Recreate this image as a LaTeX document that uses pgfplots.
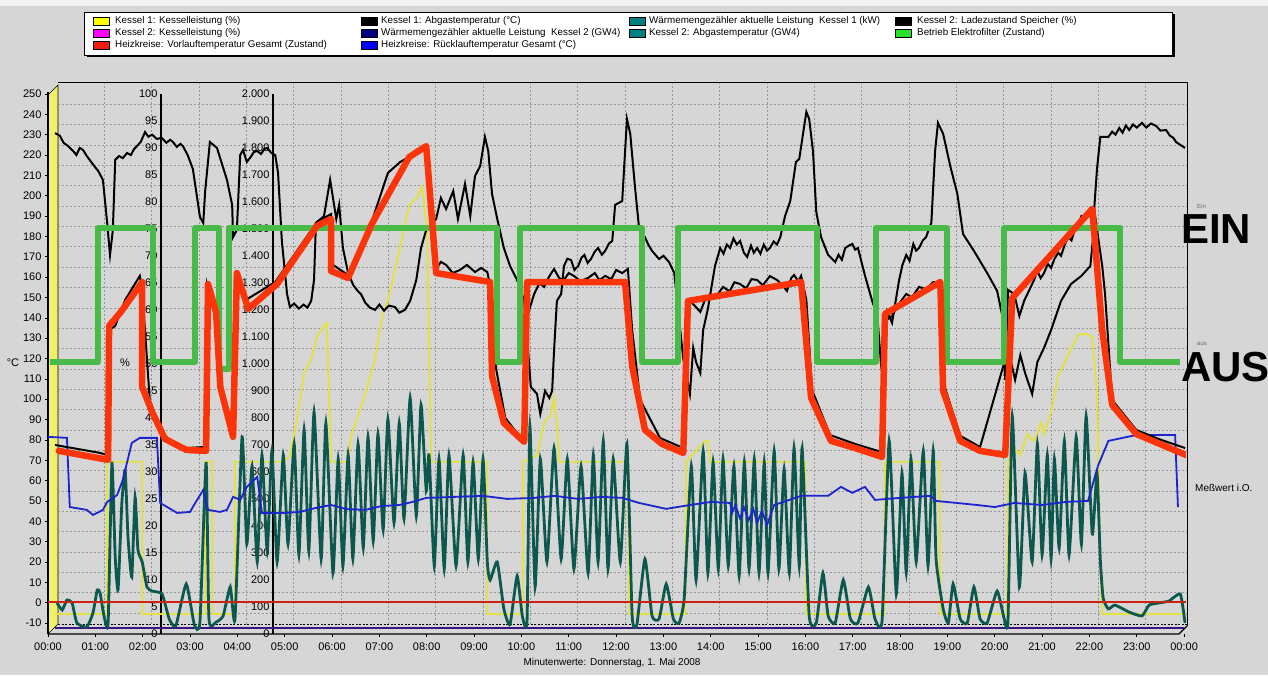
\documentclass[border=0pt]{standalone}
\usepackage{fontspec}
\setmainfont{Liberation Sans}
\usepackage{pgfplots}
\pgfplotsset{compat=1.18}
\definecolor{bg}{RGB}{214,214,214}
\definecolor{gridc}{RGB}{150,150,150}
\definecolor{redthick}{RGB}{252,52,10}
\definecolor{greenthick}{RGB}{72,186,72}
\definecolor{tealc}{RGB}{12,88,78}
\definecolor{yell}{RGB}{226,226,64}
\definecolor{bluec}{RGB}{28,36,205}
\definecolor{redline}{RGB}{205,35,20}
\definecolor{navyc}{RGB}{60,20,130}
\definecolor{wallyel}{RGB}{240,240,110}
\definecolor{lgyel}{RGB}{255,255,0}
\definecolor{lgmag}{RGB}{255,0,255}
\definecolor{lgred}{RGB}{235,30,15}
\definecolor{lgnavy}{RGB}{0,0,128}
\definecolor{lgblue}{RGB}{0,0,255}
\definecolor{lgteal}{RGB}{0,128,128}
\definecolor{lggreen}{RGB}{40,225,40}
\newcommand{\tickfont}{\fontsize{11}{13}\selectfont}
\newcommand{\lgfont}{\fontsize{9.8}{11}\selectfont}
\begin{document}
\begin{tikzpicture}[x=1pt,y=1pt]
\fill[bg] (0,0) rectangle (1268,675);
\useasboundingbox (0,0) rectangle (1268,675);
\fill[white!70!bg] (0,669) rectangle (1268,675);
% ---------------- legend box
\fill[black] (86.5,617.5) rectangle (1174.5,661);
\fill[white] (84,620) rectangle (1172,663);
\draw[black,line width=0.6pt] (84,620) rectangle (1172,663);
\foreach \c/\xx/\yy in {lgyel/93/654, lgmag/93/642, lgred/93/630, black/361/654, lgnavy/361/642, lgblue/361/630, lgteal/629/654, lgteal/629/642, black/895/654, lggreen/895/642}
  {\filldraw[fill=\c,draw=black,line width=0.5pt] (\xx,\yy-4) rectangle (\xx+16,\yy+4);}
\node[anchor=west,inner sep=0pt,font=\lgfont] at (115,654) {Kessel 1: Kesselleistung (\%)};
\node[anchor=west,inner sep=0pt,font=\lgfont] at (115,642) {Kessel 2: Kesselleistung (\%)};
\node[anchor=west,inner sep=0pt,font=\lgfont] at (115,630) {Heizkreise: Vorlauftemperatur Gesamt (Zustand)};
\node[anchor=west,inner sep=0pt,font=\lgfont] at (381,654) {Kessel 1: Abgastemperatur (°C)};
\node[anchor=west,inner sep=0pt,font=\lgfont] at (381,642) {Wärmemengezähler aktuelle Leistung\ \ Kessel 2 (GW4)};
\node[anchor=west,inner sep=0pt,font=\lgfont] at (381,630) {Heizkreise: Rücklauftemperatur Gesamt (°C)};
\node[anchor=west,inner sep=0pt,font=\lgfont] at (649,654) {Wärmemengezähler aktuelle Leistung\ \ Kessel 1 (kW)};
\node[anchor=west,inner sep=0pt,font=\lgfont] at (649,642) {Kessel 2: Abgastemperatur (GW4)};
\node[anchor=west,inner sep=0pt,font=\lgfont] at (917,654) {Kessel 2: Ladezustand Speicher (\%)};
\node[anchor=west,inner sep=0pt,font=\lgfont] at (917,642) {Betrieb Elektrofilter (Zustand)};
% ---------------- 3D wall, grid, frame
\filldraw[fill=wallyel,draw=black,line width=0.6pt] (48,580) -- (58,590) -- (58,51) -- (48,41) -- cycle;
\foreach \k in {1,...,23} {\draw[gridc,line width=0.6pt,dash pattern=on 2pt off 2pt] ({57+47.33*\k},51) -- ({57+47.33*\k},593);}
\foreach \v in {-10,0,...,240} {\draw[gridc,line width=0.6pt,dash pattern=on 2pt off 2pt] (58,{591-(250-\v)*2.035}) -- (1187,{591-(250-\v)*2.035});}
\draw[black,line width=0.8pt] (58,593) -- (1187,593) -- (1187,49);
\draw[black,line width=0.7pt,dash pattern=on 2pt off 1.5pt] (58,51) -- (1187,51);
\draw[black,line width=1.2pt] (48,41) -- (1179,41) -- (1187,49);
\draw[black,line width=1.6pt] (48,41) -- (48,583);
\draw[black,line width=1.4pt] (161,41) -- (161,581);
\draw[black,line width=1.4pt] (273,41) -- (273,581);
% ---------------- secondary scales (labels only)
\begin{axis}[at={(161pt,41pt)},anchor=south west,scale only axis,width=1pt,height=552pt,
  xmin=0,xmax=1,ymin=0,ymax=102.2,hide x axis,axis line style={draw=none},
  ytick={0,5,...,100},yticklabels={0,5,10,15,20,25,30,35,40,45,50,55,60,65,70,75,80,85,90,95,100},
  ytick pos=left,major tick length=0pt,yticklabel style={font=\tickfont,text=black}]
\addplot[draw=none] coordinates {(0,0)};
\end{axis}
\begin{axis}[at={(273pt,41pt)},anchor=south west,scale only axis,width=1pt,height=552pt,
  xmin=0,xmax=1,ymin=0,ymax=2044,hide x axis,axis line style={draw=none},
  ytick={0,100,...,2000},yticklabels={0,100,200,300,400,500,600,700,800,900,1.000,1.100,1.200,1.300,1.400,1.500,1.600,1.700,1.800,1.900,2.000},
  ytick pos=left,major tick length=0pt,yticklabel style={font=\tickfont,text=black}]
\addplot[draw=none] coordinates {(0,0)};
\end{axis}
% ---------------- % data: Kesselleistung
\begin{axis}[at={(48pt,41pt)},anchor=south west,scale only axis,width=1138pt,height=552pt,
  xmin=0,xmax=24.04,ymin=0,ymax=102.2,hide axis]
\addplot[yell,line width=1.9pt] coordinates {(0.15,3.7)(1.25,3.7)(1.25,31.9)(1.99,31.9)(1.99,3.7)(3.32,3.7)(3.32,31.9)(3.47,31.9)(3.47,3.7)(3.95,3.7)(3.95,31.9)(5.0,31.9)(5.11,33.1)(5.26,39.8)(5.41,48.3)(5.56,50.9)(5.68,55.0)(5.83,57.0)(5.89,57.6)(5.98,31.9)(6.34,31.9)(6.40,36.5)(6.70,44.4)(6.91,50.9)(7.06,58.9)(7.18,61.7)(7.42,70.9)(7.63,79.4)(7.78,80.7)(7.90,82.8)(8.01,74.8)(8.09,31.9)(9.28,31.9)(9.28,3.7)(10.02,3.7)(10.04,31.9)(10.33,33.1)(10.48,39.1)(10.61,40.4)(10.69,43.7)(10.75,39.1)(10.80,31.9)(12.25,31.9)(12.28,3.7)(13.46,3.7)(13.48,31.9)(13.69,33.9)(13.88,35.7)(13.94,35.7)(13.99,31.9)(15.99,31.9)(16.02,3.7)(17.66,3.7)(17.68,31.9)(18.83,31.9)(18.85,3.7)(20.26,3.7)(20.28,31.9)(20.41,34.4)(20.54,33.1)(20.69,37.0)(20.83,35.7)(20.98,39.1)(21.04,37.0)(21.19,41.1)(21.34,47.8)(21.55,51.7)(21.76,55.4)(21.91,55.6)(22.06,55.0)(22.16,44.4)(22.23,13.7)(22.27,3.7)(24.02,3.7)};
\end{axis}
% ---------------- kW data: Waermemengenzaehler
\begin{axis}[at={(48pt,41pt)},anchor=south west,scale only axis,width=1138pt,height=552pt,
  xmin=0,xmax=24.04,ymin=0,ymax=2044,hide axis]
\addplot[navyc,line width=2.6pt] coordinates {(0.15,22)(24.0,22)};
\addplot[tealc,line width=2.8pt,smooth,tension=0.3] coordinates {(0.19,115)(0.30,89)(0.40,126)(0.51,115)(0.61,41)(0.82,26)(0.95,78)(1.04,163)(1.10,152)(1.18,70)(1.27,40)(1.35,633)(1.42,285)(1.48,163)(1.56,485)(1.63,607)(1.69,359)(1.77,211)(1.84,507)(1.90,311)(1.99,267)(2.09,174)(2.20,159)(2.41,148)(2.56,56)(2.70,30)(2.92,185)(3.09,35)(3.21,45)(3.34,637)(3.40,55)(3.55,44)(3.70,67)(3.85,174)(3.95,55)(4.10,730)(4.20,333)(4.31,622)(4.42,267)(4.52,663)(4.63,307)(4.73,678)(4.84,267)(4.97,663)(5.07,333)(5.20,704)(5.30,293)(5.41,756)(5.51,307)(5.62,822)(5.77,278)(5.87,781)(6.02,226)(6.13,648)(6.23,252)(6.34,663)(6.44,278)(6.55,704)(6.66,319)(6.76,730)(6.87,344)(6.97,741)(7.08,385)(7.18,796)(7.31,411)(7.42,781)(7.52,426)(7.65,874)(7.78,437)(7.88,848)(7.99,530)(8.05,663)(8.16,252)(8.26,648)(8.37,241)(8.47,663)(8.62,252)(8.77,663)(8.87,267)(8.98,637)(9.09,278)(9.19,648)(9.28,267)(9.34,200)(9.49,267)(9.63,93)(9.76,35)(9.91,215)(10.02,67)(10.12,50)(10.18,770)(10.29,174)(10.40,648)(10.54,267)(10.69,689)(10.84,278)(10.97,648)(11.11,241)(11.26,622)(11.41,226)(11.52,663)(11.62,267)(11.73,715)(11.83,241)(11.94,648)(12.09,267)(12.23,704)(12.34,67)(12.44,35)(12.61,278)(12.76,67)(12.91,56)(13.06,185)(13.21,56)(13.33,40)(13.44,133)(13.59,622)(13.69,200)(13.84,678)(13.94,226)(14.05,637)(14.16,241)(14.26,648)(14.37,252)(14.49,622)(14.60,215)(14.71,637)(14.81,241)(14.92,648)(15.02,226)(15.13,637)(15.21,226)(15.34,678)(15.44,241)(15.55,611)(15.66,226)(15.76,689)(15.87,252)(15.93,689)(16.08,67)(16.23,41)(16.37,226)(16.48,67)(16.63,41)(16.80,200)(16.95,56)(17.11,41)(17.33,174)(17.47,56)(17.62,50)(17.77,715)(17.92,148)(18.04,596)(18.13,226)(18.23,648)(18.34,267)(18.49,678)(18.59,252)(18.70,678)(18.76,278)(18.91,93)(19.02,41)(19.12,185)(19.27,56)(19.42,41)(19.56,174)(19.69,56)(19.84,41)(20.05,159)(20.20,56)(20.28,50)(20.37,807)(20.52,174)(20.64,596)(20.79,267)(20.90,704)(21.00,293)(21.11,663)(21.19,278)(21.26,648)(21.36,319)(21.47,715)(21.57,293)(21.72,730)(21.83,333)(21.93,807)(22.06,370)(22.16,596)(22.23,274)(22.29,133)(22.40,93)(22.54,107)(22.84,81)(23.11,67)(23.26,107)(23.47,115)(23.68,122)(23.92,148)(24.02,41)};
\end{axis}
% ---------------- degC axis with ticks and temperature series
\begin{axis}[at={(48pt,41pt)},anchor=south west,scale only axis,width=1138pt,height=552pt,
  xmin=0,xmax=24.04,ymin=-15.4,ymax=255.9,axis line style={draw=none},
  xtick={0,1,...,24},xticklabels={00:00,01:00,02:00,03:00,04:00,05:00,06:00,07:00,08:00,09:00,10:00,11:00,12:00,13:00,14:00,15:00,16:00,17:00,18:00,19:00,20:00,21:00,22:00,23:00,00:00},
  ytick={-10,0,...,250},yticklabels={-10,0,10,20,30,40,50,60,70,80,90,100,110,120,130,140,150,160,170,180,190,200,210,220,230,240,250},
  xtick pos=bottom,ytick pos=left,tick align=outside,major tick length=3pt,
  tick style={black,line width=0.6pt},
  xticklabel style={font=\tickfont,text=black,yshift=-2pt},
  yticklabel style={font=\tickfont,text=black}]
\addplot[redline,line width=2.4pt] coordinates {(0,0.4)(24.04,0.4)};
\addplot[bluec,line width=1.8pt] coordinates {(0,81.5)(0.40,81.0)(0.46,47.0)(0.82,45.6)(0.95,43.1)(1.16,45.6)(1.25,49.5)(1.46,52.9)(1.58,60.3)(1.77,78.5)(1.94,81.0)(2.30,81.0)(2.37,49.0)(2.73,44.1)(3.00,44.6)(3.11,49.0)(3.28,55.4)(3.38,45.6)(3.63,44.6)(3.78,45.6)(3.91,52.0)(4.06,50.5)(4.20,56.9)(4.42,61.8)(4.52,44.1)(4.97,44.1)(5.32,44.6)(5.65,46.5)(5.98,48.0)(6.30,46.0)(6.70,45.6)(7.05,47.5)(7.42,48.0)(7.70,49.5)(7.99,51.5)(8.60,52.0)(9.19,52.5)(9.70,51.0)(10.27,51.5)(10.70,52.5)(11.20,51.0)(11.70,52.0)(12.13,51.5)(12.49,49.0)(13.06,46.1)(13.56,48.0)(14.00,49.5)(14.41,49.0)(14.45,44.0)(14.52,48.0)(14.62,41.2)(14.70,47.0)(14.80,40.5)(14.90,46.0)(14.98,39.2)(15.08,45.0)(15.19,38.2)(15.34,48.0)(15.91,52.5)(16.48,52.5)(16.75,56.9)(16.99,54.0)(17.26,56.9)(17.47,50.5)(18.00,51.5)(18.64,52.5)(18.76,50.0)(19.20,49.0)(19.63,48.0)(20.00,47.0)(20.41,49.0)(21.00,48.0)(21.50,49.5)(21.97,50.0)(22.18,67.2)(22.40,79.5)(22.99,82.4)(23.81,82.4)(23.87,47.0)};
\addplot[black,line width=2pt] coordinates {(0.15,77.5)(1.10,73.6)(1.25,72.6)(1.29,134.0)(1.42,136.0)(1.63,148.8)(1.94,160.6)(1.99,153.7)(2.15,99.6)(2.37,84.9)(2.64,78.0)(2.94,76.0)(3.30,76.5)(3.36,156.2)(3.55,138.9)(3.68,104.6)(3.91,84.9)(3.97,161.0)(4.18,148.8)(4.80,157.6)(5.20,170.9)(5.68,187.1)(5.98,191.0)(6.02,166.0)(6.34,161.0)(6.85,188.1)(7.18,211.2)(7.44,216.6)(7.63,219.0)(7.78,222.5)(7.90,223.5)(7.99,222.5)(8.11,183.2)(8.20,164.0)(8.30,167.5)(8.41,166.0)(8.55,162.0)(8.70,163.5)(8.85,166.0)(9.02,162.5)(9.15,164.5)(9.28,162.5)(9.36,153.7)(9.47,114.4)(9.66,90.8)(10.02,80.0)(10.10,139.0)(10.27,151.7)(10.38,157.0)(10.48,155.2)(10.58,160.0)(10.69,164.0)(10.80,159.5)(10.90,158.6)(11.00,162.0)(11.11,160.6)(11.25,158.0)(11.41,159.6)(11.55,162.0)(11.65,158.5)(11.77,160.6)(11.90,159.0)(12.00,163.5)(12.13,162.0)(12.25,164.0)(12.34,134.0)(12.51,99.6)(12.93,80.9)(13.42,76.0)(13.50,143.9)(13.56,148.3)(13.66,146.0)(13.78,142.9)(13.88,149.0)(13.99,151.7)(14.10,150.0)(14.26,155.2)(14.40,153.0)(14.50,157.5)(14.62,156.6)(14.75,154.5)(14.86,159.0)(14.98,158.6)(15.10,156.0)(15.25,160.5)(15.40,158.6)(15.50,156.5)(15.61,153.2)(15.70,159.5)(15.76,161.0)(15.85,158.0)(15.91,160.6)(16.02,148.8)(16.14,104.6)(16.52,82.4)(17.05,78.0)(17.60,74.1)(17.71,138.9)(17.83,140.9)(17.95,146.0)(18.13,151.7)(18.25,150.0)(18.40,155.2)(18.55,154.0)(18.70,157.6)(18.85,157.6)(18.93,107.0)(19.27,82.0)(19.69,76.5)(20.18,116.3)(20.33,119.8)(20.43,109.5)(20.54,121.7)(20.64,112.9)(20.79,102.6)(20.90,118.3)(21.04,125.2)(21.19,134.0)(21.40,148.3)(21.61,156.6)(21.83,160.6)(22.02,165.5)(22.12,190.0)(22.27,165.5)(22.33,151.7)(22.48,99.6)(22.99,84.9)(23.49,80.2)(24.02,76.0)};
\addplot[black,line width=2pt] coordinates {(0.15,230.8)(0.25,229.5)(0.33,226.0)(0.42,224.5)(0.53,222.0)(0.60,220.0)(0.67,223.5)(0.74,222.5)(0.82,219.5)(0.90,217.0)(0.98,214.5)(1.06,212.2)(1.16,207.8)(1.25,186.6)(1.31,170.9)(1.37,183.2)(1.42,217.6)(1.50,219.5)(1.58,218.5)(1.67,221.0)(1.75,220.0)(1.82,223.0)(1.88,224.4)(1.96,226.5)(2.05,231.3)(2.12,229.0)(2.20,230.0)(2.30,227.9)(2.40,228.5)(2.50,226.0)(2.58,227.5)(2.64,226.4)(2.72,224.0)(2.80,225.5)(2.85,224.4)(2.95,220.0)(3.06,213.2)(3.21,189.6)(3.28,186.6)(3.32,202.3)(3.42,226.4)(3.57,223.5)(3.78,207.8)(3.89,195.5)(3.91,179.7)(3.99,183.2)(4.06,220.0)(4.12,222.5)(4.20,216.6)(4.28,219.0)(4.35,221.5)(4.42,222.0)(4.50,220.5)(4.57,223.0)(4.63,223.5)(4.72,221.0)(4.80,220.0)(4.86,211.2)(4.94,177.8)(5.05,151.7)(5.11,145.3)(5.20,147.0)(5.30,144.5)(5.40,146.5)(5.48,145.0)(5.56,148.3)(5.62,158.6)(5.66,186.6)(5.83,190.0)(5.96,207.8)(6.09,188.6)(6.15,195.5)(6.23,174.3)(6.34,162.0)(6.45,156.0)(6.55,153.0)(6.61,151.7)(6.70,147.5)(6.80,145.0)(6.91,143.9)(7.00,146.5)(7.10,143.5)(7.20,146.0)(7.33,145.3)(7.42,142.5)(7.54,143.9)(7.65,148.3)(7.78,158.6)(7.88,174.3)(7.99,183.2)(8.20,188.6)(8.30,198.9)(8.41,193.5)(8.56,202.3)(8.66,188.6)(8.81,205.8)(8.92,190.0)(9.02,209.7)(9.13,214.6)(9.23,228.9)(9.30,222.0)(9.38,200.9)(9.49,188.6)(9.63,174.3)(9.76,165.5)(9.91,158.6)(10.06,148.3)(10.20,106.0)(10.33,102.6)(10.40,92.8)(10.50,104.1)(10.59,100.6)(10.65,104.1)(10.69,123.7)(10.75,148.3)(10.84,151.7)(10.90,165.5)(10.97,169.0)(11.05,168.4)(11.12,163.5)(11.20,165.5)(11.27,169.5)(11.33,170.9)(11.40,167.0)(11.47,168.9)(11.55,172.5)(11.62,174.3)(11.70,171.0)(11.77,172.9)(11.85,176.5)(11.92,177.8)(11.98,195.5)(12.13,197.4)(12.23,237.7)(12.30,230.4)(12.40,204.3)(12.49,183.2)(12.61,179.7)(12.68,176.0)(12.76,172.9)(12.83,171.0)(12.91,168.9)(13.00,170.5)(13.12,167.4)(13.23,162.0)(13.31,144.4)(13.42,119.8)(13.56,102.6)(13.63,125.2)(13.69,118.3)(13.78,112.9)(13.84,134.0)(13.94,144.4)(14.09,165.5)(14.20,174.3)(14.27,171.5)(14.34,176.0)(14.41,174.3)(14.48,179.0)(14.55,176.0)(14.62,177.8)(14.70,172.0)(14.77,169.9)(14.85,175.5)(14.91,172.0)(14.98,174.3)(15.05,171.5)(15.12,176.0)(15.19,173.0)(15.25,174.3)(15.33,177.5)(15.40,176.0)(15.47,179.7)(15.57,190.0)(15.68,197.4)(15.80,216.6)(15.87,218.1)(16.02,241.2)(16.08,237.7)(16.16,222.0)(16.23,192.0)(16.33,179.7)(16.48,170.9)(16.63,167.4)(16.70,171.0)(16.77,168.5)(16.84,174.3)(16.92,175.5)(16.99,176.3)(17.05,173.5)(17.11,174.3)(17.26,160.6)(17.41,148.3)(17.52,140.9)(17.60,116.3)(17.66,106.0)(17.73,142.9)(17.83,137.5)(17.98,158.6)(18.05,166.0)(18.13,170.9)(18.20,168.0)(18.28,176.3)(18.34,173.0)(18.40,174.3)(18.48,178.0)(18.55,179.7)(18.60,183.0)(18.66,186.6)(18.74,222.0)(18.80,235.8)(18.91,230.4)(19.06,214.6)(19.21,200.9)(19.33,181.2)(19.56,172.9)(19.84,162.0)(20.05,153.2)(20.16,140.9)(20.22,109.5)(20.28,153.7)(20.41,151.7)(20.52,140.9)(20.62,148.3)(20.83,158.6)(20.90,163.0)(20.97,159.5)(21.04,162.0)(21.12,166.5)(21.19,164.5)(21.26,168.9)(21.34,172.0)(21.40,170.5)(21.48,176.0)(21.55,179.7)(21.62,178.0)(21.70,184.0)(21.77,186.0)(21.83,190.0)(21.90,189.0)(22.02,193.5)(22.08,186.6)(22.16,213.2)(22.23,228.9)(22.40,228.9)(22.48,231.5)(22.55,230.0)(22.63,233.3)(22.70,231.0)(22.77,234.5)(22.84,232.3)(22.92,235.0)(23.00,233.5)(23.11,235.8)(23.20,233.5)(23.30,235.5)(23.41,234.3)(23.50,232.0)(23.62,232.3)(23.70,229.5)(23.77,228.5)(23.83,226.4)(23.92,225.0)(24.02,223.5)};
\addplot[greenthick,line width=6pt,line join=round] coordinates {(0.04,118.3)(1.06,118.3)(1.06,184.2)(2.22,184.2)(2.22,118.3)(3.11,118.3)(3.11,184.2)(3.62,184.2)(3.62,115)(3.82,115)(3.82,184.2)(9.49,184.2)(9.49,118.3)(9.97,118.3)(9.97,184.2)(12.55,184.2)(12.55,118.3)(13.31,118.3)(13.31,184.2)(16.25,184.2)(16.25,118.3)(17.49,118.3)(17.49,184.2)(19.0,184.2)(19.0,118.3)(20.2,118.3)(20.2,184.2)(22.65,184.2)(22.65,118.3)(23.92,118.3)};
\addplot[redthick,line width=6.5pt,line join=round,line cap=round] coordinates {(0.23,74.6)(1.27,70.2)(1.29,136.0)(1.54,142.9)(1.99,157.6)(1.99,106.0)(2.20,93.7)(2.47,80.5)(2.92,75.1)(3.34,74.6)(3.38,156.6)(3.55,142.9)(3.64,106.0)(3.91,81.5)(3.99,162.0)(4.23,144.4)(4.84,156.6)(5.20,168.9)(5.68,185.1)(5.98,188.6)(5.98,163.0)(6.34,159.6)(6.85,186.6)(7.63,219.0)(7.99,224.4)(8.20,162.0)(9.34,157.6)(9.38,111.4)(9.63,88.3)(10.06,79.0)(10.12,157.6)(12.19,157.6)(12.34,116.3)(12.61,84.9)(12.97,78.0)(13.42,73.6)(13.52,148.3)(15.91,157.6)(16.12,100.6)(16.54,79.5)(17.05,76.0)(17.62,71.6)(17.68,141.9)(18.85,157.6)(18.91,104.1)(19.27,79.5)(19.69,74.6)(20.22,72.6)(20.37,149.8)(22.06,193.5)(22.27,134.0)(22.48,97.2)(22.99,82.9)(24.04,72.6)};
\end{axis}
% ---------------- texts
\node[font=\tickfont] at (13,312) {°C};
\node[font=\tickfont] at (125,312) {\%};
\node[font=\fontsize{10}{12}\selectfont] at (612,12) {Minutenwerte: Donnerstag, 1. Mai 2008};
\node[anchor=west,font=\fontsize{6}{7}\selectfont,text=black!60,inner sep=0pt] at (1197,469) {Ein};
\node[anchor=west,font=\fontsize{6}{7}\selectfont,text=black!60,inner sep=0pt] at (1197,331) {aus};
\node[anchor=west,font=\fontsize{10}{12}\selectfont,inner sep=0pt] at (1195,187) {Meßwert i.O.};
\node[anchor=base west,font=\fontsize{42}{44}\selectfont\bfseries,inner sep=0pt] at (1181,431) {EIN};
\node[anchor=base west,font=\fontsize{42}{44}\selectfont\bfseries,inner sep=0pt] at (1181,293) {AUS};
\end{tikzpicture}
\end{document}
